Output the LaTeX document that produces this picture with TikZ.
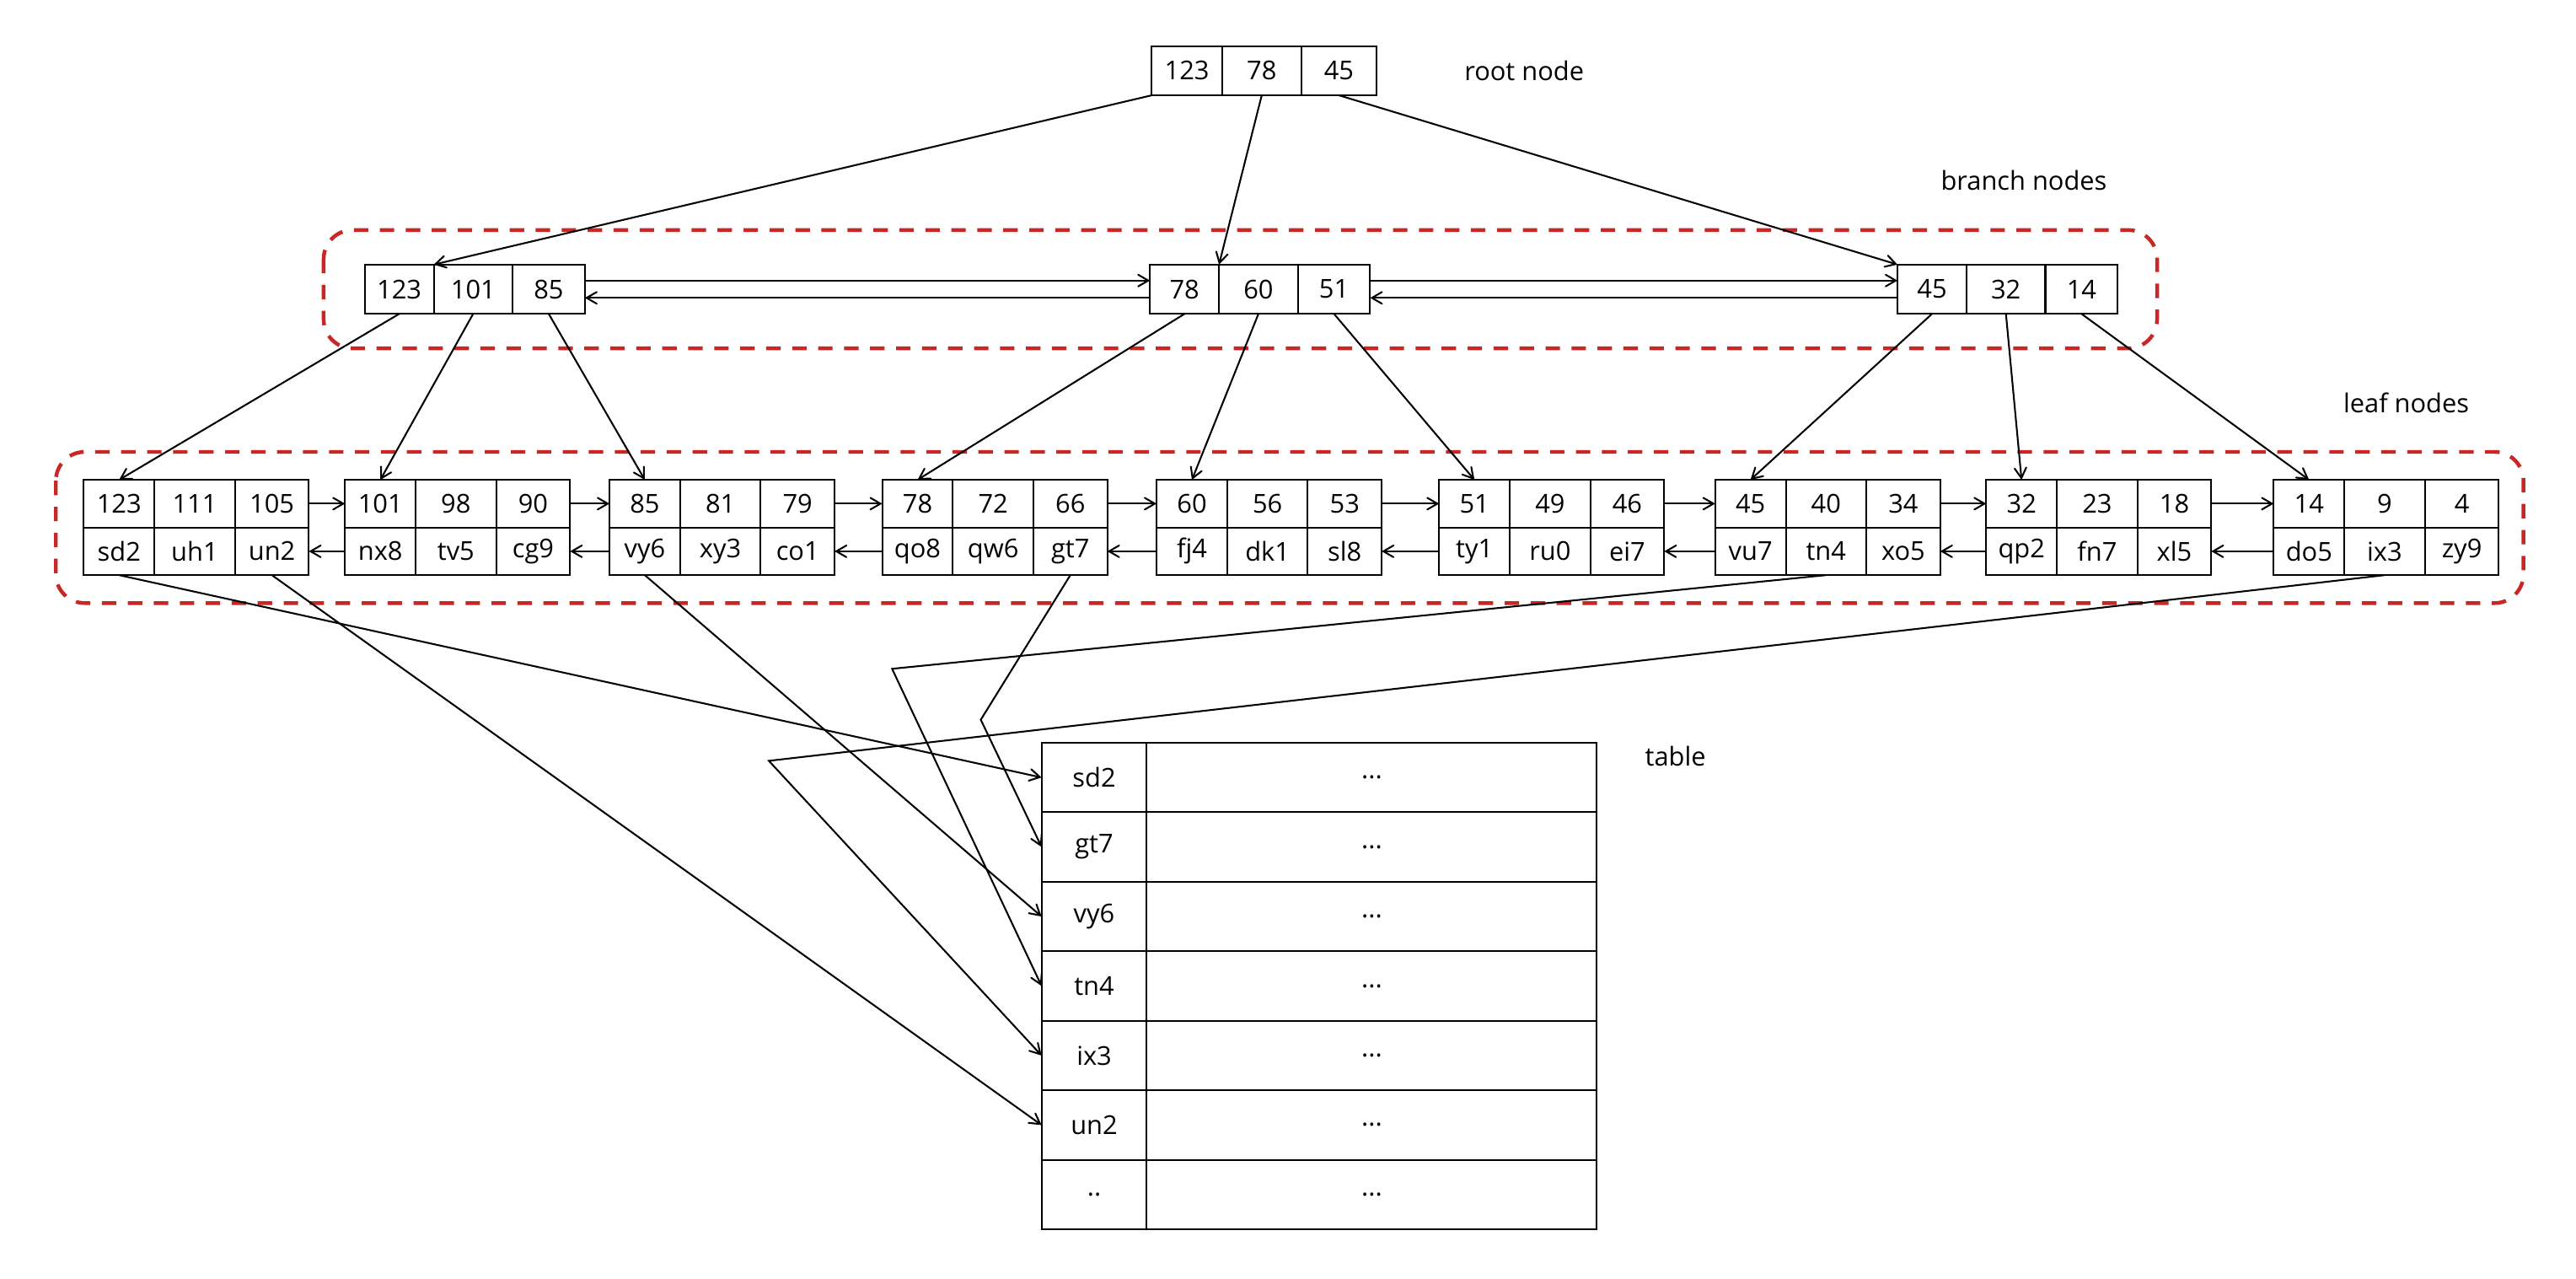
\documentclass[tikz,border=0pt]{standalone}
\usepackage{fontspec}
\setmainfont{Open Sans}
\usepackage{tikz}
\usetikzlibrary{arrows}
\tikzset{
	cell/.style={draw,rectangle,inner sep=0pt,outer sep=0pt,font=\small,minimum height=0.58cm},
	kcell/.style={cell,minimum height=0.6cm},
	group box/.style={draw=red!75!black!85,dashed,dash pattern=on 5pt off 4pt,line width=1.3pt,rounded corners=10pt},
	label text/.style={font=\small,anchor=west}
}

\begin{document}
\begin{tikzpicture}[->,>=angle 60,x=0.02cm,y=-0.02cm,line width=0.6pt]
	\useasboundingbox (0,0) rectangle (1568,778);
	% root
	\node[kcell,minimum width=0.86cm] (R1) at (722.5,43) {123};
	\node[kcell,minimum width=0.96cm] (R2) at (768,43) {78};
	\node[kcell,minimum width=0.92cm] (R3) at (815,43) {45};
	\node[label text] (rootlbl) at (885,43) {root node};

	% branch nodes
	\foreach \i/\x/\a/\b/\c in {1/222/123/101/85, 2/700/78/60/51, 3/1155/45/32/14}{
		\node[kcell,minimum width=0.84cm] (B\i k1) at (\x+21,176) {\a};
		\node[kcell,minimum width=0.96cm] (B\i k2) at (\x+66,176) {\b};
		\node[kcell,minimum width=0.88cm] (B\i k3) at (\x+112,176) {\c};
	}
	\node[label text] (branchlbl) at (1175,110) {branch nodes};
	\draw[-,group box] (197,140) rectangle (1313,212);

	% leaf nodes
	\foreach \i/\x/\a/\b/\c/\p/\q/\r in {1/51/123/111/105/sd2/uh1/un2, 2/210/101/98/90/nx8/tv5/cg9,
		3/371/85/81/79/vy6/xy3/co1, 4/537/78/72/66/qo8/qw6/gt7, 5/704/60/56/53/fj4/dk1/sl8,
		6/876/51/49/46/ty1/ru0/ei7, 7/1044/45/40/34/vu7/tn4/xo5, 8/1209/32/23/18/qp2/fn7/xl5,
		9/1384/14/9/4/do5/ix3/zy9}{
		\node[cell,minimum width=0.86cm] (L\i k1) at (\x+21.5,306.5) {\a};
		\node[cell,minimum width=0.98cm] (L\i k2) at (\x+67.5,306.5) {\b};
		\node[cell,minimum width=0.9cm] (L\i k3) at (\x+114.5,306.5) {\c};
		\node[cell,minimum width=0.86cm] (L\i v1) at (\x+21.5,335.5) {\p};
		\node[cell,minimum width=0.98cm] (L\i v2) at (\x+67.5,335.5) {\q};
		\node[cell,minimum width=0.9cm] (L\i v3) at (\x+114.5,335.5) {\r};
	}
	\node[label text] (leaflbl) at (1420,245) {leaf nodes};
	\draw[-,group box] (34,275) rectangle (1536,367);

	% table
	\foreach \i/\t in {1/sd2,2/gt7,3/vy6,4/tn4,5/ix3,6/un2,7/..}{
		\node[cell,minimum width=1.28cm,minimum height=0.846cm] (T\i) at (666,452+42.3*\i-21.15) {\t};
		\node[cell,minimum width=5.48cm,minimum height=0.846cm] (D\i) at (835,452+42.3*\i-21.15) {...};
	}
	\node[label text] (tablelbl) at (995,460) {table};

	% root to branch
	\draw (R1.south west) -- (B1k1.north east);
	\draw (R2.south) -- (B2k1.north east);
	\draw (R3.south) -- (B3k1.north west);

	% branch links
	\draw ([yshift=3pt]B1k3.east) -- ([yshift=3pt]B2k1.west);
	\draw ([yshift=-3pt]B2k1.west) -- ([yshift=-3pt]B1k3.east);
	\draw ([yshift=3pt]B2k3.east) -- ([yshift=3pt]B3k1.west);
	\draw ([yshift=-3pt]B3k1.west) -- ([yshift=-3pt]B2k3.east);

	% branch to leaf
	\foreach \b/\l in {1/1,2/4,3/7}{
		\pgfmathtruncatemacro{\m}{\l+1}
		\pgfmathtruncatemacro{\n}{\l+2}
		\draw (B\b k1.south) -- (L\l k1.north);
		\draw (B\b k2.south) -- (L\m k1.north);
		\draw (B\b k3.south) -- (L\n k1.north);
	}

	% leaf links
	\foreach \i in {1,...,8}{
		\pgfmathtruncatemacro{\j}{\i+1}
		\draw (L\i k3.east) -- (L\j k1.west);
		\draw (L\j v1.west) -- (L\i v3.east);
	}

	% leaf to table
	\coordinate (gtbend) at (597,438);
	\coordinate (tnbend) at (543,407);
	\coordinate (ixbend) at (468,463);
	\draw (L1v1.south) -- (T1.west);
	\draw (L1v3.south) -- (T6.west);
	\draw (L3v1.south) -- (T3.west);
	\draw (L4v3.south) -- (gtbend) -- (T2.west);
	\draw (L7v2.south) -- (tnbend) -- (T4.west);
	\draw (L9v2.south) -- (ixbend) -- (T5.west);
\end{tikzpicture}
\end{document}
